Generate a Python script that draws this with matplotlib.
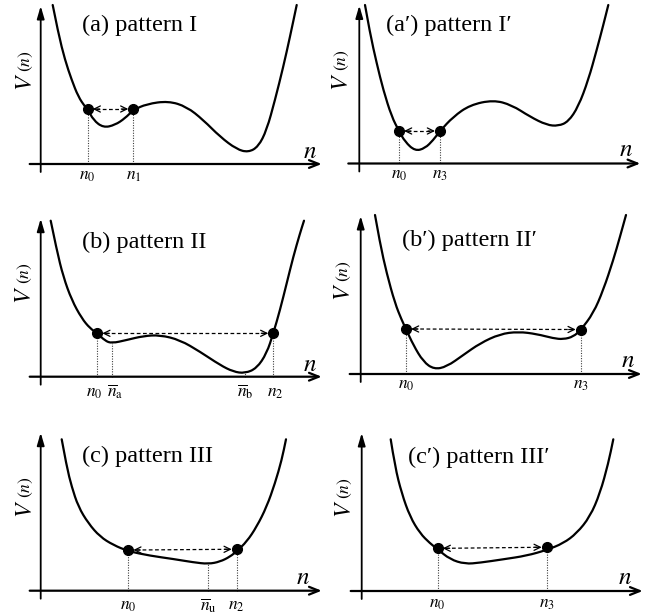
import matplotlib.pyplot as plt
from matplotlib.path import Path
from matplotlib.patches import PathPatch

plt.rcParams['mathtext.fontset'] = 'stix'
SERIF = ['Liberation Serif', 'DejaVu Serif']

# --- potential curves V(n), one per pattern (n, V) ---
a_n = [12, 17.6, 24.3, 31, 37.6, 44.3, 47, 52.6, 62.6, 74.3, 84.3, 92.6, 106, 127.6,
       146, 162.6, 179.3, 196, 207.6, 217.6, 226, 234.3, 242.6, 249.3, 256]
a_v = [159, 130.7, 104, 84, 67.3, 57.3, 55, 44, 36.3, 39, 45.7, 54, 60, 63,
       57.3, 44, 27.3, 14.7, 11.7, 17.3, 34, 64, 97.3, 127.3, 159]

ap_n = [5.7, 10.7, 17.4, 24, 32.4, 39.7, 45.7, 55.7, 65.7, 74, 80.7, 94, 110.7, 134,
        152.4, 170.7, 187.4, 199, 209, 219, 229, 237.4, 244, 249]
ap_v = [158.5, 130.2, 100.2, 73.5, 46.8, 32.5, 21.8, 12.5, 15.2, 23.5, 32.5, 46.8, 58.5, 63.5,
        58.5, 46.8, 38.5, 37.5, 41.8, 56.8, 83.5, 113.5, 138.5, 158.5]

b_n = [10, 16, 22.6, 31, 41, 49.3, 56.6, 64.3, 71, 86, 102.6, 119.3, 139.3, 159.3,
       179.3, 192.6, 204.3, 216, 226, 232.6, 239.3, 246, 252.6, 259.3, 263.3]
b_v = [156, 126.7, 100, 76.7, 58.4, 48.4, 43.4, 36, 33.4, 36.7, 40.7, 41.7, 36.7, 25,
       11.7, 5, 3.4, 8.4, 23.4, 43.4, 66.7, 93.4, 120, 143.4, 156]

bp_n = [14.3, 19.3, 26, 34.3, 41, 45.3, 52.6, 62.6, 73.3, 86, 102.6, 119.3, 139.3, 157.6,
        176, 192.6, 202.6, 212.6, 220, 232.6, 242.6, 252.6, 259.3, 265.3]
bp_v = [159, 130.7, 100.7, 70.7, 54, 45, 29, 12.3, 4.7, 7.3, 19, 30.7, 40, 42.3,
        40, 35.7, 34.7, 37.3, 44, 60.7, 84, 114, 137.3, 159]

c_n = [21, 26, 31, 37.6, 47.6, 59.3, 72.6, 87.6, 109.3, 132.6, 152.6, 167.6, 179.3,
       189.3, 196, 206, 216, 226, 234.3, 241, 245.3]
c_v = [151.4, 124, 104, 84, 67.4, 54, 45.7, 39.5, 35, 31.7, 28.4, 26.7, 29,
       34, 39.5, 49, 64, 84, 107.4, 130.7, 151.4]

cp_n = [29, 33.3, 40, 48.3, 58.3, 68.3, 76, 88.3, 103.3, 118.3, 141.6, 165, 185,
        201.6, 215, 228.3, 238.3, 246.6, 251.6]
cp_v = [151.7, 124.3, 97.7, 74.3, 57.7, 47.7, 41.7, 31.7, 27, 28.3, 31.7, 35.3, 41,
        47.7, 57.7, 74.3, 97.7, 127.7, 151.7]

# --- turning points (dots joined by the dashed arrow) ---
a_dot_n, a_dot_v = [47, 92.6], [55, 55]
ap_dot_n, ap_dot_v = [39.7, 80.7], [32.5, 32.5]
b_dot_n, b_dot_v = [56.6, 232.6], [43.4, 43.4]
bp_dot_n, bp_dot_v = [45.3, 220], [45, 44.5]
c_dot_n, c_dot_v = [87.6, 196], [40.7, 41.4]
cp_dot_n, cp_dot_v = [76, 185], [42.7, 43.7]

# --- marked positions on the n axis ---
a_mark_n, a_mark_v = [47, 92.6], [55, 55]
a_mark_lbl = [r'$n_0$', r'$n_1$']
ap_mark_n, ap_mark_v = [39.7, 80.7], [32.5, 32.5]
ap_mark_lbl = [r'$n_0$', r'$n_3$']
b_mark_n, b_mark_v = [56.6, 71, 204.3, 232.6], [43.4, 33.4, 3.4, 43.4]
b_mark_lbl = [r'$n_0$', r'$\overline{n}_{\mathrm{a}}$', r'$\overline{n}_{\mathrm{b}}$', r'$n_2$']
bp_mark_n, bp_mark_v = [45.3, 220], [45, 44.5]
bp_mark_lbl = [r'$n_0$', r'$n_3$']
c_mark_n, c_mark_v = [87.6, 167.6, 196], [40.7, 26.7, 41.4]
c_mark_lbl = [r'$n_0$', r'$\overline{n}_{\mathrm{u}}$', r'$n_2$']
cp_mark_n, cp_mark_v = [76, 185], [42.7, 43.7]
cp_mark_lbl = [r'$n_0$', r'$n_3$']

titles = ['(a) pattern I', '(a\u2032) pattern I\u2032',
          '(b) pattern II', '(b\u2032) pattern II\u2032',
          '(c) pattern III', '(c\u2032) pattern III\u2032']

W, H = 656, 616


def panel_axes(fig, ox, oy):
    # local units are pixels measured from the axis crossing
    ax = fig.add_axes([(ox - 40) / W, 1 - (oy + 25) / H, 330 / W, 190 / H])
    ax.set_xlim(-40, 290)
    ax.set_ylim(-25, 165)
    ax.axis('off')
    return ax


def smooth_curve(xs, ys):
    # quadratic bezier through the midpoints, the read points act as control points
    verts = [(xs[0], ys[0])]
    codes = [Path.MOVETO]
    for i in range(1, len(xs) - 1):
        verts += [(xs[i], ys[i]), ((xs[i] + xs[i + 1]) / 2, (ys[i] + ys[i + 1]) / 2)]
        codes += [Path.CURVE3, Path.CURVE3]
    verts.append((xs[-1], ys[-1]))
    codes.append(Path.LINETO)
    return Path(verts, codes)


def draw_panel(ax, cn, cv, dn, dv, mn, mv, mlbl, title, title_xy, lbl_y, nlab_xy, vlab_x,
               lbl_shift=None):
    # coordinate axes with arrow heads
    ax.annotate('', xy=(281, 0), xytext=(-11, 0),
                arrowprops=dict(arrowstyle='->,head_length=0.7,head_width=0.28',
                                lw=1.6, color='black', shrinkA=0, shrinkB=0))
    ax.annotate('', xy=(0, 158), xytext=(0, -8),
                arrowprops=dict(arrowstyle='-|>,head_length=0.75,head_width=0.22',
                                lw=1.3, color='black', shrinkA=0, shrinkB=0))

    # dotted drop lines and their labels
    if lbl_shift is None:
        lbl_shift = [0] * len(mn)
    for x, v, s, dx in zip(mn, mv, mlbl, lbl_shift):
        ax.plot([x, x], [0, v], ls=(0, (1, 1.3)), lw=0.8, color='0.25')
        ax.text(x + dx, lbl_y, s, fontsize=12.5, ha='center', va='center')

    ax.add_patch(PathPatch(smooth_curve(cn, cv), facecolor='none', edgecolor='black',
                           lw=1.6, capstyle='round', joinstyle='round'))

    # dashed double arrow between the two dots
    x0, x1 = dn[0] + 5, dn[1] - 5
    ax.plot([x0 + 3, x1 - 3], [dv[0], dv[1]], ls=(0, (3, 2)), lw=0.9, color='black')
    for xa, xb, v in [(x0, x0 + 7, dv[0]), (x1, x1 - 7, dv[1])]:
        ax.annotate('', xy=(xa, v), xytext=(xb, v),
                    arrowprops=dict(arrowstyle='->,head_length=0.45,head_width=0.22',
                                    lw=0.9, color='black', shrinkA=0, shrinkB=0))
    ax.plot(dn, dv, 'o', ms=7, color='black', zorder=5)

    ax.text(title_xy[0], title_xy[1], title, fontsize=17.5, family=SERIF,
            ha='left', va='center')
    ax.text(nlab_xy[0], nlab_xy[1], r'$n$', fontsize=18, ha='center', va='center')
    ax.text(vlab_x, 82, r'$V$', fontsize=17, rotation=90, ha='center', va='center')
    ax.text(vlab_x + 1, 103, r'$(n)$', fontsize=12.5, rotation=90, ha='center', va='center')


fig = plt.figure(figsize=(6.56, 6.16), dpi=100)

ax = panel_axes(fig, 40.7, 164)
draw_panel(ax, a_n, a_v, a_dot_n, a_dot_v, a_mark_n, a_mark_v, a_mark_lbl,
           titles[0], (41, 139), -11, (269, 13), -16)

ax = panel_axes(fig, 359.3, 163.5)
draw_panel(ax, ap_n, ap_v, ap_dot_n, ap_dot_v, ap_mark_n, ap_mark_v, ap_mark_lbl,
           titles[1], (27, 138.5), -10.5, (267, 14), -18)

ax = panel_axes(fig, 40.7, 376.7)
draw_panel(ax, b_n, b_v, b_dot_n, b_dot_v, b_mark_n, b_mark_v, b_mark_lbl,
           titles[2], (41, 134), -15, (269, 12.5), -16.5, lbl_shift=[-3.5, 3.5, 0, 1.5])

ax = panel_axes(fig, 360.7, 374)
draw_panel(ax, bp_n, bp_v, bp_dot_n, bp_dot_v, bp_mark_n, bp_mark_v, bp_mark_lbl,
           titles[3], (41, 134), -10, (267.5, 14), -17.5)

ax = panel_axes(fig, 40.7, 590.7)
draw_panel(ax, c_n, c_v, c_dot_n, c_dot_v, c_mark_n, c_mark_v, c_mark_lbl,
           titles[4], (41, 134), -14.5, (262.5, 14), -16)

ax = panel_axes(fig, 361.7, 591)
draw_panel(ax, cp_n, cp_v, cp_dot_n, cp_dot_v, cp_mark_n, cp_mark_v, cp_mark_lbl,
           titles[5], (46.5, 134), -11.5, (263, 14.5), -18)

fig.savefig('out.png', dpi=100)
